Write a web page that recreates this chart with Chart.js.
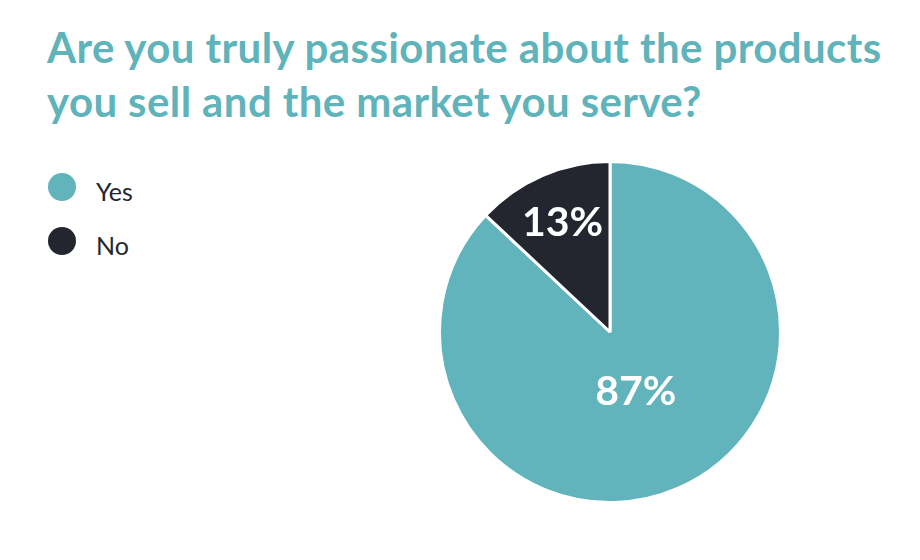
<!DOCTYPE html>
<html>
<head>
<meta charset="utf-8">
<script src="https://cdn.jsdelivr.net/npm/chart.js@4"></script>
<style>
  html, body { margin: 0; padding: 0; background: #fff; }
  body { width: 920px; height: 560px; position: relative; overflow: hidden; font-family: Lato, sans-serif; }
  #title {
    position: absolute; left: 47px; top: 20px; margin: 0;
    font-size: 42px; font-weight: 700; line-height: 54px; letter-spacing: 0.4px; color: #5fb3ba;
  }
  #legend { position: absolute; left: 48px; top: 160px; }
  .item { display: flex; align-items: center; height: 54px; font-size: 25px; color: #23262f; }
  .item span.txt { position: relative; top: 4px; }
  .dot { width: 28px; height: 28px; border-radius: 50%; margin-right: 20px; }
  #wrap { position: absolute; left: 438px; top: 160px; width: 344px; height: 344px; }
</style>
</head>
<body>
<h1 id="title">Are you truly passionate about the products<br>you sell and the market you serve?</h1>
<div id="legend"></div>
<div id="wrap"><canvas id="pie"></canvas></div>
<script>
const labels = ['Yes', 'No'];
const values = [87, 13];
const colors = ['#62b4bc', '#23262f'];

// legenda em HTML, a do Chart.js empurraria a pizza
const legendEl = document.getElementById('legend');
legendEl.innerHTML = labels.map((l, i) => `
  <div class="item"><span class="dot" style="background:${colors[i]}"></span><span class="txt">${l}</span></div>
`).join('');

const pctLabels = {
  id: 'pctLabels',
  afterDatasetsDraw(chart, args, opts) {
    const { ctx } = chart;
    const meta = chart.getDatasetMeta(0);
    ctx.save();
    ctx.fillStyle = '#fff';
    ctx.font = opts.font;
    ctx.textAlign = 'center';
    ctx.textBaseline = 'middle';
    meta.data.forEach((arc, i) => {
      const mid = (arc.startAngle + arc.endAngle) / 2;
      const r   = arc.outerRadius * opts.radius[i];
      ctx.fillText(values[i] + '%', arc.x + Math.cos(mid) * r, arc.y + Math.sin(mid) * r);
    });
    ctx.restore();
  },
};

new Chart(document.getElementById('pie'), {
  type: 'pie',
  data: {
    labels,
    datasets: [{
      data: values,
      backgroundColor: colors,
      borderColor: '#fff',
      borderWidth: 3,
    }],
  },
  options: {
    responsive: true,
    maintainAspectRatio: false,
    animation: false,
    plugins: {
      legend: { display: false },
      tooltip: { enabled: false },
      pctLabels: { font: 'bold 41px Lato', radius: [0.38, 0.7] },
    },
  },
  plugins: [pctLabels],
});
</script>
</body>
</html>
